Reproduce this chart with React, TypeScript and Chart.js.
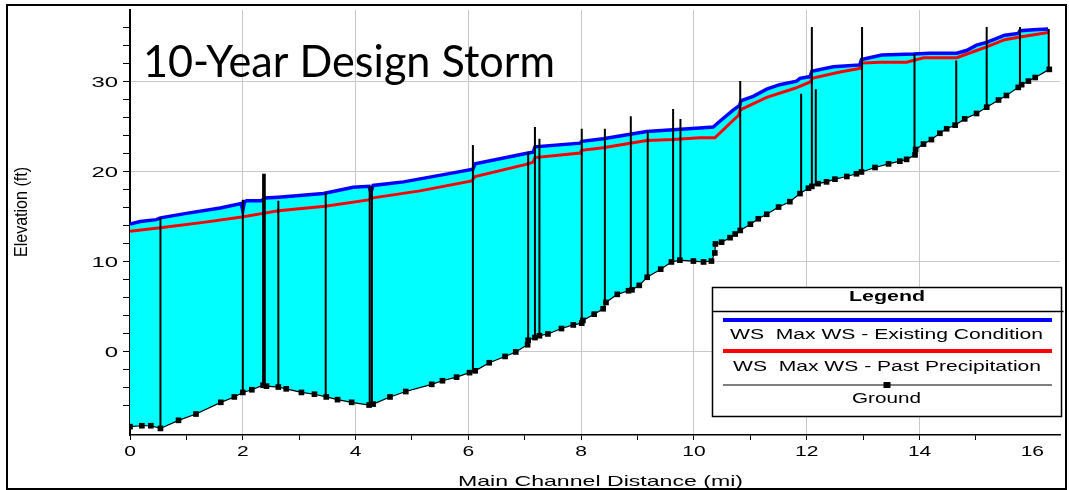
import React, { useEffect, useRef } from "react";
import { Chart, registerables } from "chart.js";

Chart.register(...registerables);

// ---- Data (miles, feet) ----
const groundMiles = [0.0, 0.21, 0.37, 0.54, 0.86, 1.17, 1.61, 1.85, 2.0, 2.16, 2.36, 2.42, 2.63, 2.77, 3.04, 3.27, 3.48, 3.68, 3.93, 4.24, 4.31, 4.61, 4.89, 5.35, 5.54, 5.79, 6.02, 6.12, 6.37, 6.65, 6.84, 7.05, 7.06, 7.18, 7.26, 7.41, 7.65, 7.86, 8.01, 8.03, 8.23, 8.39, 8.44, 8.64, 8.84, 8.9, 9.03, 9.17, 9.41, 9.6, 9.75, 9.99, 10.17, 10.31, 10.37, 10.38, 10.49, 10.64, 10.73, 10.82, 11.0, 11.14, 11.29, 11.5, 11.7, 11.88, 12.03, 12.09, 12.2, 12.35, 12.5, 12.71, 12.88, 12.97, 13.21, 13.45, 13.65, 13.77, 13.92, 13.93, 14.07, 14.21, 14.36, 14.48, 14.63, 14.8, 15.01, 15.19, 15.4, 15.54, 15.75, 15.81, 15.93, 16.05, 16.3];
const groundElev = [-8.4, -8.3, -8.3, -8.6, -7.7, -7.0, -5.7, -5.1, -4.6, -4.3, -3.8, -3.9, -4.0, -4.2, -4.6, -4.8, -5.1, -5.4, -5.7, -6.0, -5.9, -5.1, -4.5, -3.7, -3.3, -2.9, -2.4, -2.2, -1.3, -0.6, -0.1, 0.7, 1.2, 1.5, 1.7, 1.9, 2.5, 2.9, 3.1, 3.4, 4.1, 4.7, 5.4, 6.3, 6.7, 6.8, 7.3, 8.2, 9.1, 9.9, 10.1, 10.0, 9.9, 10.0, 10.9, 11.9, 12.1, 12.6, 13.0, 13.4, 14.1, 14.7, 15.2, 16.0, 16.6, 17.5, 18.1, 18.3, 18.6, 18.8, 19.1, 19.4, 19.7, 19.9, 20.4, 20.8, 21.1, 21.3, 21.8, 22.4, 23.0, 23.5, 24.2, 24.7, 25.1, 25.8, 26.4, 27.1, 27.9, 28.4, 29.3, 29.6, 30.0, 30.4, 31.3];

const existingMiles = [0, 0.18, 0.47, 0.54, 1.0, 1.6, 1.97, 2.0, 2.03, 2.07, 2.33, 2.39, 2.63, 3.43, 3.96, 4.24, 4.27, 4.31, 4.85, 5.73, 6.08, 6.12, 7.06, 7.15, 7.18, 7.98, 8.01, 8.39, 8.87, 9.16, 9.63, 10.1, 10.34, 10.49, 10.7, 10.81, 10.83, 11.05, 11.29, 11.52, 11.82, 11.88, 12.06, 12.09, 12.47, 12.94, 12.97, 13.33, 13.89, 14.18, 14.66, 14.83, 15.01, 15.19, 15.51, 15.75, 15.78, 16.02, 16.28];
const existingElev = [14.1, 14.4, 14.6, 14.8, 15.3, 15.9, 16.4, 15.6, 16.6, 16.7, 16.7, 17.0, 17.1, 17.5, 18.2, 18.3, 17.6, 18.4, 18.8, 19.8, 20.2, 20.8, 22.0, 22.1, 22.7, 23.1, 23.3, 23.6, 24.1, 24.4, 24.6, 24.8, 24.9, 25.7, 26.8, 27.3, 27.8, 28.3, 29.1, 29.6, 30.0, 30.3, 30.5, 31.1, 31.6, 31.8, 32.4, 32.9, 33.0, 33.1, 33.1, 33.4, 34.0, 34.3, 35.1, 35.3, 35.6, 35.7, 35.8];

const pastMiles = [0, 0.38, 0.54, 1.3, 1.98, 2.36, 2.63, 3.46, 4.23, 4.28, 5.14, 6.06, 6.12, 7.06, 7.15, 7.18, 7.98, 8.01, 8.39, 8.87, 9.16, 9.63, 10.1, 10.37, 10.79, 10.82, 11.29, 11.79, 12.06, 12.09, 12.59, 12.94, 12.97, 13.3, 13.77, 14.07, 14.66, 15.01, 15.19, 15.51, 15.78, 16.28];
const pastElev = [13.3, 13.6, 13.7, 14.3, 14.9, 15.3, 15.6, 16.1, 16.8, 17.0, 17.8, 18.9, 19.4, 20.8, 21.0, 21.5, 22.0, 22.3, 22.6, 23.1, 23.4, 23.5, 23.7, 23.7, 26.2, 26.8, 28.2, 29.2, 29.9, 30.3, 31.0, 31.4, 32.0, 32.1, 32.1, 32.6, 32.6, 33.4, 33.8, 34.6, 34.9, 35.4];

// structure / cross-section marker lines: station and top elevation
const structMiles = [0.54, 2.0, 2.36, 2.39, 2.63, 3.47, 4.25, 4.29, 6.08, 7.06, 7.18, 7.26, 8.01, 8.42, 8.88, 9.18, 9.63, 9.76, 10.82, 11.9, 12.09, 12.16, 12.98, 13.91, 14.65, 15.19, 15.78, 16.29];
const structTop = [14.8, 16.8, 19.7, 19.7, 16.7, 17.6, 18.3, 18.3, 22.9, 22.1, 24.9, 23.6, 24.7, 24.7, 26.1, 24.4, 26.9, 25.8, 30.0, 28.6, 36.0, 29.1, 36.0, 33.0, 32.3, 36.0, 36.0, 35.8];

const xTickLabels = [0, 2, 4, 6, 8, 10, 12, 14, 16];
const yTickLabels = [0, 10, 20, 30];
const legendLabels = ["WS  Max WS - Existing Condition", "WS  Max WS - Past Precipitation", "Ground"];

const TITLE = "10-Year Design Storm";
const X_TITLE = "Main Channel Distance (mi)";
const Y_TITLE = "Elevation (ft)";

function groundAt(x: number): number {
  for (let i = 0; i < groundMiles.length - 1; i++) {
    const a = groundMiles[i], b = groundMiles[i + 1];
    if (x >= a && x <= b) {
      const t = b === a ? 0 : (x - a) / (b - a);
      return groundElev[i] + t * (groundElev[i + 1] - groundElev[i]);
    }
  }
  return groundElev[groundElev.length - 1];
}

const ARIAL = '"Liberation Sans", Arial, sans-serif';

function drawFit(ctx: CanvasRenderingContext2D, text: string, cx: number, cy: number, font: string, targetW: number, sy = 1) {
  ctx.save();
  ctx.font = font;
  const w = ctx.measureText(text).width;
  const sx = targetW / w;
  ctx.translate(cx, cy);
  ctx.scale(sx, sy);
  ctx.textAlign = "center";
  ctx.textBaseline = "middle";
  ctx.fillText(text, 0, 0);
  ctx.restore();
}

function drawStretched(ctx: CanvasRenderingContext2D, text: string, x: number, y: number, font: string, sx: number, align: CanvasTextAlign) {
  ctx.save();
  ctx.font = font;
  ctx.translate(x, y);
  ctx.scale(sx, 1);
  ctx.textAlign = align;
  ctx.textBaseline = "middle";
  ctx.fillText(text, 0, 0);
  ctx.restore();
}

const overlayPlugin = {
  id: "overlay",
  afterDraw(chart: any) {
    const ctx: CanvasRenderingContext2D = chart.ctx;
    const xs = chart.scales.x;
    const ys = chart.scales.y;
    ctx.save();
    ctx.fillStyle = "#000";

    // tick labels
    yTickLabels.forEach((v) => {
      drawStretched(ctx, String(v), xs.left - 12, ys.getPixelForValue(v) + 1.5, `14.5px ${ARIAL}`, 1.65, "right");
    });
    xTickLabels.forEach((v) => {
      drawStretched(ctx, String(v), xs.getPixelForValue(v), ys.bottom + 17, `14.5px ${ARIAL}`, 1.45, "center");
    });

    // axis titles
    drawFit(ctx, X_TITLE, 600.5, 481.5, `15px ${ARIAL}`, 285);
    ctx.save();
    ctx.translate(22, 212);
    ctx.rotate(-Math.PI / 2);
    drawFit(ctx, Y_TITLE, 0, 0, `14px ${ARIAL}`, 90, 1.3);
    ctx.restore();

    // big title
    ctx.save();
    ctx.font = '44px Lato, "Open Sans", sans-serif';
    const tw = ctx.measureText(TITLE).width;
    ctx.translate(143, 77);
    ctx.scale(412 / tw, 1);
    ctx.textAlign = "left";
    ctx.textBaseline = "alphabetic";
    ctx.fillText(TITLE, 0, 0);
    ctx.restore();

    // legend
    const lx = 712.5, ly = 287.5, lw = 349, lh = 129;
    ctx.fillStyle = "#fff";
    ctx.fillRect(lx, ly, lw, lh);
    ctx.strokeStyle = "#000";
    ctx.lineWidth = 1.5;
    ctx.strokeRect(lx, ly, lw, lh);
    ctx.beginPath();
    ctx.moveTo(lx, 311.5);
    ctx.lineTo(lx + lw + 2, 311.5);
    ctx.stroke();
    ctx.fillStyle = "#000";
    drawFit(ctx, "Legend", 887, 297.5, `bold 14px ${ARIAL}`, 76);

    ctx.lineWidth = 4;
    ctx.strokeStyle = "#0000ff";
    ctx.beginPath();
    ctx.moveTo(723, 320);
    ctx.lineTo(1052, 320);
    ctx.stroke();
    drawFit(ctx, legendLabels[0], 886.5, 335.5, `14px ${ARIAL}`, 313);

    ctx.strokeStyle = "#ff0000";
    ctx.beginPath();
    ctx.moveTo(723, 351);
    ctx.lineTo(1052, 351);
    ctx.stroke();
    drawFit(ctx, legendLabels[1], 887, 367.5, `14px ${ARIAL}`, 308);

    ctx.strokeStyle = "#555";
    ctx.lineWidth = 1.5;
    ctx.beginPath();
    ctx.moveTo(723, 385);
    ctx.lineTo(1052, 385);
    ctx.stroke();
    ctx.fillStyle = "#000";
    ctx.fillRect(883.5, 382, 7, 6);
    drawFit(ctx, legendLabels[2], 886.5, 399.5, `14px ${ARIAL}`, 69);

    // outer frame
    ctx.strokeStyle = "#000";
    ctx.lineWidth = 2;
    ctx.strokeRect(7, 5, 1059, 484);
    ctx.restore();
  },
};

export default function App() {
  const ref = useRef<HTMLCanvasElement | null>(null);

  useEffect(() => {
    if (!ref.current) return;

    const structData: any[] = [];
    structMiles.forEach((x, i) => {
      structData.push({ x, y: groundAt(x) });
      structData.push({ x, y: structTop[i] });
      structData.push({ x, y: null });
    });

    const chart = new Chart(ref.current, {
      type: "line",
      data: {
        datasets: [
          {
            label: "Ground",
            data: groundMiles.map((x, i) => ({ x, y: groundElev[i] })),
            borderColor: "#000",
            borderWidth: 1.2,
            pointStyle: "rect",
            pointRadius: 4,
            pointBackgroundColor: "#000",
            pointBorderWidth: 0,
            fill: false,
            tension: 0,
          },
          {
            label: "Structures",
            data: structData,
            borderColor: "#000",
            borderWidth: 2,
            pointRadius: 0,
            fill: false,
            spanGaps: false,
          },
          {
            label: legendLabels[0],
            data: existingMiles.map((x, i) => ({ x, y: existingElev[i] })),
            borderColor: "#0000ff",
            backgroundColor: "#00ffff",
            borderWidth: 3.5,
            pointRadius: 0,
            fill: 0,
          },
          {
            label: legendLabels[1],
            data: pastMiles.map((x, i) => ({ x, y: pastElev[i] })),
            borderColor: "#ff0000",
            borderWidth: 3,
            pointRadius: 0,
            fill: false,
          },
        ],
      },
      options: {
        animation: false,
        responsive: false,
        maintainAspectRatio: false,
        devicePixelRatio: 1,
        layout: { padding: { left: 0, top: 10, right: 9, bottom: 0 } },
        plugins: {
          legend: { display: false },
          tooltip: { enabled: false },
          title: { display: false },
          filler: { drawTime: "beforeDatasetsDraw" },
        } as any,
        scales: {
          x: {
            type: "linear",
            min: 0,
            max: 16.49,
            ticks: { stepSize: 1, display: false },
            afterBuildTicks: (s: any) => {
              s.ticks = s.ticks.filter((t: any) => Math.abs(t.value - Math.round(t.value)) < 1e-6);
            },
            afterFit: (s: any) => {
              s.height = 55;
            },
            grid: {
              color: (c: any) => (c.tick && Math.round(c.tick.value) % 2 === 0 && c.tick.value > 0 ? "#c8c8c8" : "rgba(0,0,0,0)"),
              tickColor: "#000",
              tickLength: 5,
              lineWidth: 1,
              drawTicks: true,
            },
            border: { display: true, color: "#000", width: 1.5 },
          },
          y: {
            type: "linear",
            min: -9.33,
            max: 37.9,
            ticks: { stepSize: 2, display: false },
            afterBuildTicks: (s: any) => {
              s.ticks = s.ticks.filter((t: any) => Math.abs(t.value / 2 - Math.round(t.value / 2)) < 1e-6);
            },
            afterFit: (s: any) => {
              s.width = 130;
            },
            grid: {
              color: (c: any) => (c.tick && Math.round(c.tick.value) % 10 === 0 ? "#c8c8c8" : "rgba(0,0,0,0)"),
              tickColor: "#000",
              tickLength: 7,
              lineWidth: 1,
              drawTicks: true,
            },
            border: { display: true, color: "#000", width: 2 },
          },
        },
      } as any,
      plugins: [overlayPlugin],
    });

    return () => chart.destroy();
  }, []);

  return (
    <div style={{ position: "fixed", left: 0, top: 0, width: 1069, height: 490, background: "#fff" }}>
      <canvas ref={ref} width={1069} height={490} style={{ display: "block" }} />
    </div>
  );
}
